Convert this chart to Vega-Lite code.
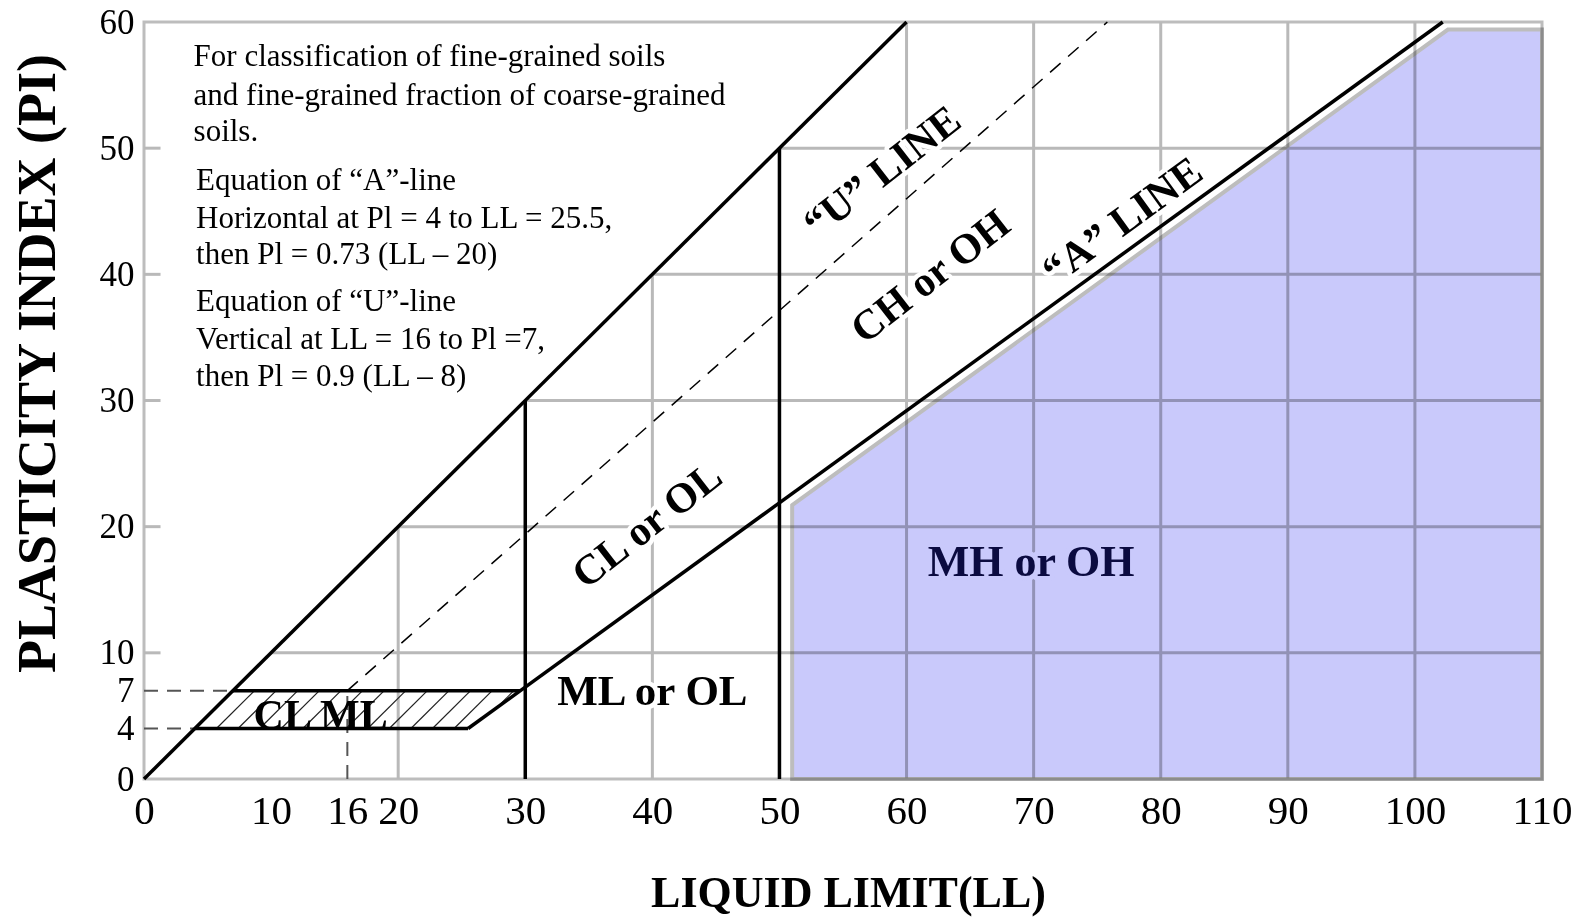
{
  "$schema": "https://vega.github.io/schema/vega-lite/v6.json",
  "width": 1398,
  "height": 757,
  "autosize": "none",
  "padding": {"left": 144, "top": 22, "right": 41, "bottom": 138},
  "background": "white",
  "config": {
    "view": {"stroke": "#bdbdbd", "strokeWidth": 3},
    "font": "Liberation Serif"
  },
  "datasets": {
    "grid": [
      {"LL": 20, "PI": 0, "LL2": 20, "PI2": 20},
      {"LL": 40, "PI": 0, "LL2": 40, "PI2": 40},
      {"LL": 60, "PI": 0, "LL2": 60, "PI2": 60},
      {"LL": 70, "PI": 0, "LL2": 70, "PI2": 60},
      {"LL": 80, "PI": 0, "LL2": 80, "PI2": 60},
      {"LL": 90, "PI": 0, "LL2": 90, "PI2": 60},
      {"LL": 100, "PI": 0, "LL2": 100, "PI2": 60},
      {"LL": 10, "PI": 10, "LL2": 110, "PI2": 10},
      {"LL": 20, "PI": 20, "LL2": 110, "PI2": 20},
      {"LL": 30, "PI": 30, "LL2": 110, "PI2": 30},
      {"LL": 40, "PI": 40, "LL2": 110, "PI2": 40},
      {"LL": 50, "PI": 50, "LL2": 110, "PI2": 50},
      {"LL": 0, "PI": 10, "LL2": 1.3, "PI2": 10},
      {"LL": 0, "PI": 20, "LL2": 1.3, "PI2": 20},
      {"LL": 0, "PI": 30, "LL2": 1.3, "PI2": 30},
      {"LL": 0, "PI": 40, "LL2": 1.3, "PI2": 40},
      {"LL": 0, "PI": 50, "LL2": 1.3, "PI2": 50}
    ],
    "solid": [
      {"LL": 0, "PI": 0, "LL2": 60, "PI2": 60},
      {"LL": 25.5, "PI": 4, "LL2": 102.19, "PI2": 60},
      {"LL": 30, "PI": 0, "LL2": 30, "PI2": 30},
      {"LL": 50, "PI": 0, "LL2": 50, "PI2": 50},
      {"LL": 7, "PI": 7, "LL2": 29.59, "PI2": 7},
      {"LL": 4, "PI": 4, "LL2": 25.5, "PI2": 4}
    ],
    "uline": [
      {"LL": 16, "PI": 7, "LL2": 75.8, "PI2": 60}
    ],
    "refdash": [
      {"LL": 0, "PI": 7, "LL2": 7, "PI2": 7},
      {"LL": 0, "PI": 4, "LL2": 4, "PI2": 4},
      {"LL": 16, "PI": 0, "LL2": 16, "PI2": 7}
    ],
    "hatch": [
      {"LL": 5.7, "PI": 4, "LL2": 8.7, "PI2": 7},
      {"LL": 7.4, "PI": 4, "LL2": 10.4, "PI2": 7},
      {"LL": 9.1, "PI": 4, "LL2": 12.1, "PI2": 7},
      {"LL": 10.8, "PI": 4, "LL2": 13.8, "PI2": 7},
      {"LL": 12.5, "PI": 4, "LL2": 15.5, "PI2": 7},
      {"LL": 14.2, "PI": 4, "LL2": 17.2, "PI2": 7},
      {"LL": 15.9, "PI": 4, "LL2": 18.9, "PI2": 7},
      {"LL": 17.6, "PI": 4, "LL2": 20.6, "PI2": 7},
      {"LL": 19.3, "PI": 4, "LL2": 22.3, "PI2": 7},
      {"LL": 21.0, "PI": 4, "LL2": 24.0, "PI2": 7},
      {"LL": 22.7, "PI": 4, "LL2": 25.7, "PI2": 7},
      {"LL": 24.4, "PI": 4, "LL2": 27.4, "PI2": 7},
      {"LL": 27.78, "PI": 5.68, "LL2": 29.1, "PI2": 7}
    ],
    "mh": [
      {"LL": 51, "PI": 21.7},
      {"LL": 102.6, "PI": 59.4},
      {"LL": 110, "PI": 59.4}
    ],
    "notes": [
      {"text": "For classification of fine-grained soils", "LL": 3.9, "PI": 57.2},
      {"text": "and fine-grained fraction of coarse-grained", "LL": 3.9, "PI": 54.1},
      {"text": "soils.", "LL": 3.9, "PI": 51.3},
      {"text": "Equation of “A”-line", "LL": 4.1, "PI": 47.4},
      {"text": "Horizontal at Pl = 4 to LL = 25.5,", "LL": 4.1, "PI": 44.4},
      {"text": "then Pl = 0.73 (LL – 20)", "LL": 4.1, "PI": 41.5},
      {"text": "Equation of “U”-line", "LL": 4.1, "PI": 37.8},
      {"text": "Vertical at LL = 16 to Pl =7,", "LL": 4.1, "PI": 34.8},
      {"text": "then Pl = 0.9 (LL – 8)", "LL": 4.1, "PI": 31.9}
    ],
    "zones": [
      {"label": "“U” LINE", "LL": 58.1, "PI": 48.1},
      {"label": "CH or OH", "LL": 61.9, "PI": 39.8},
      {"label": "CL or OL", "LL": 39.6, "PI": 20.1},
      {"label": "“A” LINE", "LL": 77.0, "PI": 44.2},
      {"label": "ML or OL", "LL": 40.0, "PI": 6.9},
      {"label": "CL ML", "LL": 13.9, "PI": 5.0},
      {"label": "MH or OH", "LL": 69.8, "PI": 17.1}
    ]
  },
  "encoding": {
    "x": {
      "field": "LL", "type": "quantitative",
      "scale": {"domain": [0, 110], "nice": false, "zero": false},
      "axis": {
        "values": [0, 10, 16, 20, 30, 40, 50, 60, 70, 80, 90, 100, 110],
        "domain": false, "ticks": false, "grid": false,
        "labelFlush": false, "labelOverlap": false,
        "labelFont": "Liberation Serif", "labelFontSize": 41, "labelColor": "#000", "labelPadding": 12,
        "title": "LIQUID LIMIT(LL)", "titleFont": "Liberation Serif", "titleFontSize": 44, "titleFontWeight": "bold",
        "titleColor": "#000", "titleX": 704, "titleY": 114, "titleBaseline": "middle", "titleAlign": "center"
      }
    },
    "y": {
      "field": "PI", "type": "quantitative",
      "scale": {"domain": [0, 60], "nice": false},
      "axis": {
        "values": [0, 4, 7, 10, 20, 30, 40, 50, 60],
        "domain": false, "ticks": false, "grid": false,
        "labelFlush": false, "labelOverlap": false,
        "labelFont": "Liberation Serif", "labelFontSize": 35, "labelColor": "#000", "labelPadding": 10,
        "title": "PLASTICITY INDEX (PI)", "titleFont": "Liberation Serif", "titleFontSize": 54, "titleFontWeight": "bold",
        "titleColor": "#000", "titleX": -106, "titleY": 341, "titleBaseline": "middle", "titleAlign": "center", "titleAngle": -90
      }
    }
  },
  "layer": [
    {
      "data": {"name": "grid"},
      "mark": {"type": "rule", "color": "#b9b9b9", "strokeWidth": 3},
      "encoding": {"x2": {"field": "LL2"}, "y2": {"field": "PI2"}}
    },
    {
      "data": {"name": "mh"},
      "mark": {"type": "area", "fill": "#c9c9fb", "stroke": "#bdbdbd", "strokeWidth": 4, "blend": "multiply"},
      "encoding": {"y2": {"datum": 0}}
    },
    {
      "data": {"name": "zones"},
      "transform": [{"filter": {"field": "label", "oneOf": ["“U” LINE", "CH or OH", "CL or OL"]}}],
      "mark": {"type": "text", "font": "Liberation Serif", "fontWeight": "bold", "fontSize": 42, "angle": -38, "align": "center", "baseline": "middle", "stroke": "white", "strokeWidth": 9, "strokeJoin": "round", "fill": "white"},
      "encoding": {"text": {"field": "label"}}
    },
    {
      "data": {"name": "zones"},
      "transform": [{"filter": {"field": "label", "equal": "“A” LINE"}}],
      "mark": {"type": "text", "font": "Liberation Serif", "fontWeight": "bold", "fontSize": 42, "angle": -36, "align": "center", "baseline": "middle", "stroke": "white", "strokeWidth": 9, "strokeJoin": "round", "fill": "white"},
      "encoding": {"text": {"field": "label"}}
    },
    {
      "data": {"name": "zones"},
      "transform": [{"filter": {"field": "label", "equal": "ML or OL"}}],
      "mark": {"type": "text", "font": "Liberation Serif", "fontWeight": "bold", "fontSize": 43, "align": "center", "baseline": "middle", "stroke": "white", "strokeWidth": 9, "strokeJoin": "round", "fill": "white"},
      "encoding": {"text": {"field": "label"}}
    },
    {
      "data": {"name": "zones"},
      "transform": [{"filter": {"field": "label", "equal": "CL ML"}}],
      "mark": {"type": "text", "font": "Liberation Serif", "fontWeight": "bold", "fontSize": 42, "align": "center", "baseline": "middle", "stroke": "white", "strokeWidth": 4, "strokeJoin": "round", "fill": "white"},
      "encoding": {"text": {"field": "label"}}
    },
    {
      "data": {"name": "zones"},
      "transform": [{"filter": {"field": "label", "equal": "MH or OH"}}],
      "mark": {"type": "text", "font": "Liberation Serif", "fontWeight": "bold", "fontSize": 44, "align": "center", "baseline": "middle", "stroke": "#c9c9fb", "strokeWidth": 10, "strokeJoin": "round", "fill": "#c9c9fb"},
      "encoding": {"text": {"field": "label"}}
    },
    {
      "data": {"name": "refdash"},
      "mark": {"type": "rule", "color": "#555555", "strokeWidth": 2, "strokeDash": [14, 9]},
      "encoding": {"x2": {"field": "LL2"}, "y2": {"field": "PI2"}}
    },
    {
      "data": {"name": "hatch"},
      "mark": {"type": "rule", "color": "#222222", "strokeWidth": 1.2},
      "encoding": {"x2": {"field": "LL2"}, "y2": {"field": "PI2"}}
    },
    {
      "data": {"name": "uline"},
      "mark": {"type": "rule", "color": "#000", "strokeWidth": 1.5, "strokeDash": [14, 10]},
      "encoding": {"x2": {"field": "LL2"}, "y2": {"field": "PI2"}}
    },
    {
      "data": {"name": "solid"},
      "mark": {"type": "rule", "color": "#000", "strokeWidth": 3.5},
      "encoding": {"x2": {"field": "LL2"}, "y2": {"field": "PI2"}}
    },
    {
      "data": {"name": "notes"},
      "mark": {"type": "text", "font": "Liberation Serif", "fontSize": 31, "align": "left", "baseline": "middle", "color": "#000"},
      "encoding": {"text": {"field": "text"}}
    },
    {
      "data": {"name": "zones"},
      "transform": [{"filter": {"field": "label", "oneOf": ["“U” LINE", "CH or OH", "CL or OL"]}}],
      "mark": {"type": "text", "font": "Liberation Serif", "fontWeight": "bold", "fontSize": 42, "angle": -38, "align": "center", "baseline": "middle", "color": "#000"},
      "encoding": {"text": {"field": "label"}}
    },
    {
      "data": {"name": "zones"},
      "transform": [{"filter": {"field": "label", "equal": "“A” LINE"}}],
      "mark": {"type": "text", "font": "Liberation Serif", "fontWeight": "bold", "fontSize": 42, "angle": -36, "align": "center", "baseline": "middle", "color": "#000"},
      "encoding": {"text": {"field": "label"}}
    },
    {
      "data": {"name": "zones"},
      "transform": [{"filter": {"field": "label", "oneOf": ["ML or OL"]}}],
      "mark": {"type": "text", "font": "Liberation Serif", "fontWeight": "bold", "fontSize": 43, "align": "center", "baseline": "middle", "color": "#000"},
      "encoding": {"text": {"field": "label"}}
    },
    {
      "data": {"name": "zones"},
      "transform": [{"filter": {"field": "label", "equal": "CL ML"}}],
      "mark": {"type": "text", "font": "Liberation Serif", "fontWeight": "bold", "fontSize": 42, "align": "center", "baseline": "middle", "color": "#000"},
      "encoding": {"text": {"field": "label"}}
    },
    {
      "data": {"name": "zones"},
      "transform": [{"filter": {"field": "label", "equal": "MH or OH"}}],
      "mark": {"type": "text", "font": "Liberation Serif", "fontWeight": "bold", "fontSize": 44, "align": "center", "baseline": "middle", "color": "#0b0b40"},
      "encoding": {"text": {"field": "label"}}
    }
  ]
}
